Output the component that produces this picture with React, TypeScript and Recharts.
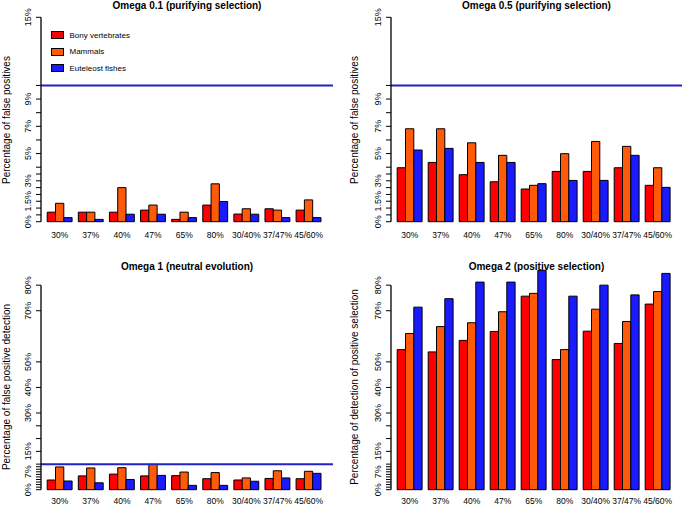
import { Bar, BarChart, Legend, ReferenceLine, XAxis, YAxis } from "recharts";

const categories = ["30%", "37%", "40%", "47%", "65%", "80%", "30/40%", "37/47%", "45/60%"];
const seriesNames = ["Bony vertebrates", "Mammals", "Euteleost fishes"];

// omega 0.1 (purifying selection), % false positives
const omega01Bony = [0.7, 0.7, 0.7, 0.85, 0.17, 1.22, 0.56, 0.95, 0.85];
const omega01Mammals = [1.35, 0.7, 2.5, 1.22, 0.7, 2.78, 0.95, 0.85, 1.6];
const omega01Fish = [0.3, 0.17, 0.55, 0.55, 0.3, 1.48, 0.55, 0.3, 0.3];

// omega 0.5 (purifying selection), % false positives
const omega05Bony = [3.96, 4.35, 3.45, 2.93, 2.4, 3.69, 3.69, 3.96, 2.67];
const omega05Mammals = [6.82, 6.82, 5.79, 4.87, 2.67, 4.99, 5.89, 5.53, 3.96];
const omega05Fish = [5.26, 5.38, 4.35, 4.35, 2.79, 3.03, 3.03, 4.87, 2.52];

// omega 1 (neutral evolution), % false positive detection
const omega1Bony = [3.8, 5.4, 6.1, 5.4, 5.5, 4.3, 3.8, 4.4, 4.3];
const omega1Mammals = [8.9, 8.5, 8.6, 9.9, 6.9, 6.7, 4.6, 7.4, 7.2];
const omega1Fish = [3.4, 2.7, 4.0, 5.6, 1.7, 1.7, 3.3, 4.6, 6.4];

// omega 2 (positive selection), % detection
const omega2Bony = [54.8, 53.9, 58.4, 61.9, 75.7, 50.9, 62.0, 57.2, 72.6];
const omega2Mammals = [61.1, 63.8, 65.3, 69.6, 76.8, 54.8, 70.6, 65.8, 77.5];
const omega2Fish = [71.4, 74.7, 81.2, 81.2, 85.8, 75.7, 80.0, 76.2, 84.6];

const topTicks = [0, 0.5, 1, 1.5, 2, 2.5, 3, 3.5, 4, 5, 6, 7, 8, 9, 10, 15];
const topTickLabels = [0, 1.5, 3, 5, 7, 9, 15];
const bottomTicks = [0, 1, 2, 3, 4, 5, 6, 7, 8, 9, 10, 15, 20, 25, 30, 40, 50, 70, 80];
const bottomTickLabels = [0, 7, 15, 30, 40, 50, 70, 80];

const FONT = '"Liberation Sans", Arial, Helvetica, sans-serif';
const RED = "#ff0000";
const ORANGE = "#ff5a0a";
const BLUE = "#1a1aff";
const LINE_BLUE = "#2323c4";

type Row = { cat: string; bony: number; mammals: number; fish: number };

function buildRows(bony: number[], mammals: number[], fish: number[]): Row[] {
  return categories.map((cat, i) => ({ cat, bony: bony[i], mammals: mammals[i], fish: fish[i] }));
}

function renderYTick(props: any, labeled: number[]) {
  const { x, y, payload } = props;
  if (!labeled.includes(payload.value)) return <g />;
  return (
    <text
      x={x}
      y={y}
      transform={`rotate(-90 ${x} ${y})`}
      textAnchor="middle"
      fontSize={9}
      fontFamily={FONT}
      fill="#000"
    >
      {`${payload.value}%`}
    </text>
  );
}

function renderLegend({ payload }: any) {
  // keep the series order, not the alphabetical one
  const items = [...(payload || [])].sort(
    (a: any, b: any) => seriesNames.indexOf(a.value) - seriesNames.indexOf(b.value)
  );
  return (
    <div style={{ fontFamily: FONT }}>
      {items.map((entry: any) => (
        <div key={entry.value} style={{ display: "flex", alignItems: "center", height: 16.5 }}>
          <span
            style={{
              display: "inline-block",
              width: 13,
              height: 8,
              background: entry.color,
              border: "1px solid #000",
              boxSizing: "border-box",
              marginRight: 6,
            }}
          />
          <span style={{ fontSize: 8, color: "#000" }}>{entry.value}</span>
        </div>
      ))}
    </div>
  );
}

type PanelProps = {
  x: number;
  y: number;
  title: string;
  yTitle: string;
  rows: Row[];
  yMax: number;
  axisMax: number;
  ticks: number[];
  labeled: number[];
  threshold?: number;
  legend?: boolean;
  isLeft: boolean;
  isTop: boolean;
};

function Panel(p: PanelProps) {
  const axisW = p.isLeft ? 41 : 50;
  const marginRight = p.isLeft ? 8 : 0;
  const marginTop = p.isTop ? 17.3 : 6.6;
  const xAxisH = p.isTop ? 31.3 : 16.3;
  const labelGap = p.isTop ? 10.3 : 8.3;
  const plotW = 341 - axisW - marginRight;
  const plotBottom = 253 - xAxisH;
  const axisTopY = plotBottom - ((plotBottom - marginTop) * p.axisMax) / p.yMax;
  const titleCy = p.isTop ? 6 : 13.5;
  const yTitleCx = p.isLeft ? 7 : 14;
  const yTitleCy = (axisTopY + plotBottom) / 2;

  return (
    <div style={{ position: "absolute", left: p.x, top: p.y, width: 341, height: 253 }}>
      <BarChart
        width={341}
        height={253}
        data={p.rows}
        margin={{ top: marginTop, right: marginRight, bottom: 0, left: 0 }}
        barGap={0}
      >
        <XAxis
          dataKey="cat"
          axisLine={false}
          tickLine={false}
          tickSize={0}
          tickMargin={labelGap}
          interval={0}
          height={xAxisH}
          padding={{ left: 3.2, right: 8.8 }}
          tick={{ fontSize: 8.5, fill: "#000", fontFamily: FONT }}
        />
        <XAxis xAxisId="edge" type="number" domain={[0, 1]} hide allowDataOverflow />
        <YAxis
          type="number"
          domain={[0, p.yMax]}
          ticks={p.ticks}
          interval={0}
          width={axisW}
          axisLine={false}
          tickLine={{ stroke: "#000", strokeWidth: 1 }}
          tickSize={5}
          tickMargin={5}
          tick={(props: any) => renderYTick(props, p.labeled)}
        />
        <Bar dataKey="bony" name={seriesNames[0]} fill={RED} stroke="#000" strokeWidth={1} barSize={8.3} isAnimationActive={false} />
        <Bar dataKey="mammals" name={seriesNames[1]} fill={ORANGE} stroke="#000" strokeWidth={1} barSize={8.3} isAnimationActive={false} />
        <Bar dataKey="fish" name={seriesNames[2]} fill={BLUE} stroke="#000" strokeWidth={1} barSize={8.3} isAnimationActive={false} />
        {p.threshold !== undefined && (
          <ReferenceLine y={p.threshold} stroke={LINE_BLUE} strokeWidth={2} ifOverflow="visible" />
        )}
        <ReferenceLine
          xAxisId="edge"
          segment={[
            { x: 0, y: 0 },
            { x: 0, y: p.axisMax },
          ]}
          stroke="#000"
          strokeWidth={1.3}
          ifOverflow="visible"
        />
        {p.legend && (
          <Legend
            layout="vertical"
            align="center"
            verticalAlign="middle"
            wrapperStyle={{ left: 50.5, top: 27, width: "auto" }}
            content={renderLegend}
          />
        )}
      </BarChart>
      <div
        style={{
          position: "absolute",
          left: axisW,
          top: titleCy - 6,
          width: plotW,
          lineHeight: "12px",
          textAlign: "center",
          fontFamily: FONT,
          fontWeight: "bold",
          fontSize: 10,
          color: "#000",
          whiteSpace: "nowrap",
        }}
      >
        {p.title}
      </div>
      <div
        style={{
          position: "absolute",
          left: yTitleCx - 130,
          top: yTitleCy - 7,
          width: 260,
          height: 14,
          lineHeight: "14px",
          textAlign: "center",
          fontFamily: FONT,
          fontSize: 10,
          color: "#000",
          transform: "rotate(-90deg)",
          whiteSpace: "nowrap",
        }}
      >
        {p.yTitle}
      </div>
    </div>
  );
}

export default function App() {
  return (
    <div style={{ position: "absolute", left: 0, top: 0, width: 682, height: 507, background: "#fff" }}>
      <Panel
        x={0}
        y={0}
        title="Omega 0.1 (purifying selection)"
        yTitle="Percentage of false positives"
        rows={buildRows(omega01Bony, omega01Mammals, omega01Fish)}
        yMax={15}
        axisMax={15}
        ticks={topTicks}
        labeled={topTickLabels}
        threshold={10}
        legend
        isLeft
        isTop
      />
      <Panel
        x={341}
        y={0}
        title="Omega 0.5 (purifying selection)"
        yTitle="Percentage of false positives"
        rows={buildRows(omega05Bony, omega05Mammals, omega05Fish)}
        yMax={15}
        axisMax={15}
        ticks={topTicks}
        labeled={topTickLabels}
        threshold={10}
        isLeft={false}
        isTop
      />
      <Panel
        x={0}
        y={253}
        title="Omega 1 (neutral evolution)"
        yTitle="Percentage of false positive detection"
        rows={buildRows(omega1Bony, omega1Mammals, omega1Fish)}
        yMax={90}
        axisMax={80}
        ticks={bottomTicks}
        labeled={bottomTickLabels}
        threshold={10}
        isLeft
        isTop={false}
      />
      <Panel
        x={341}
        y={253}
        title="Omega 2 (positive selection)"
        yTitle="Percentage of detection of positive selection"
        rows={buildRows(omega2Bony, omega2Mammals, omega2Fish)}
        yMax={90}
        axisMax={80}
        ticks={bottomTicks}
        labeled={bottomTickLabels}
        isLeft={false}
        isTop={false}
      />
    </div>
  );
}
